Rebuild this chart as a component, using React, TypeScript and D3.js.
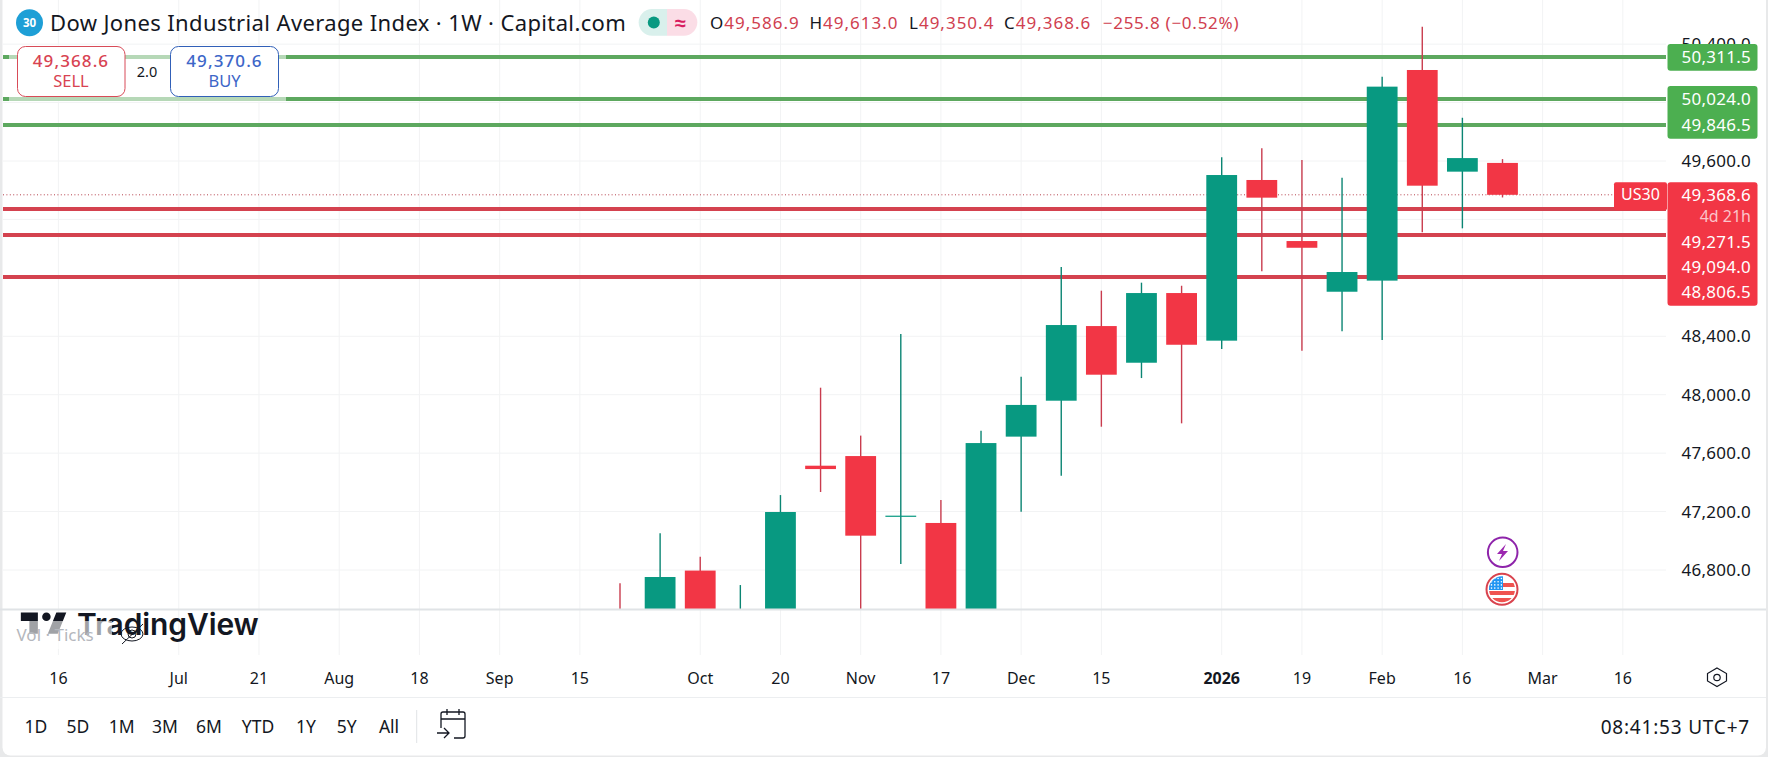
import React from 'react';
import * as d3 from 'd3';

const weeks = [
  '2025-09-22', '2025-09-29', '2025-10-06', '2025-10-13', '2025-10-20', '2025-10-27',
  '2025-11-03', '2025-11-10', '2025-11-17', '2025-11-24', '2025-12-01', '2025-12-08',
  '2025-12-15', '2025-12-22', '2025-12-29', '2026-01-05', '2026-01-12', '2026-01-19',
  '2026-01-26', '2026-02-02', '2026-02-09', '2026-02-16', '2026-02-23',
];
// the first candles run below the pane, their lower values are guesses
const opens = [46500, 46400, 46796, 46300, 46400, 47514, 47580, 47168, 47122, 46350, 47713, 47959, 48470, 48219, 48696, 48370, 49470, 49052, 48705, 48781, 50223, 49527, 49586.9];
const highs = [46709, 47051, 46891, 46697, 47313, 48048, 47720, 48416, 47279, 47754, 48123, 48874, 48712, 48767, 48746, 49625, 49687, 49607, 49486, 50177, 50519, 49896, 49613];
const lows = [46300, 46300, 46300, 46200, 46300, 47334, 46450, 46841, 46300, 46300, 47199, 47446, 47781, 48114, 47804, 48313, 48845, 48301, 48434, 48375, 49112, 49139, 49350.4];
const closes = [46420, 46752, 46450, 46450, 47197, 47491, 47035, 47172, 46400, 47669, 47930, 48477, 48137, 48696, 48342, 49504, 49349, 49006, 48840, 50109, 49431, 49620, 49368.6];

const priceTicks = [50400, 50000, 49600, 49200, 48800, 48400, 48000, 47600, 47200, 46800];
// these three tick labels sit behind the price tags in the reference
const coveredTicks = [50000, 49200, 48800];
const greenLevels = [50311.5, 50024, 49846.5];
const redLevels = [49271.5, 49094, 48806.5];
const lastPrice = 49368.6;

const timeTicks = [
  '2025-06-16', '2025-07-07', '2025-07-21', '2025-08-04', '2025-08-18', '2025-09-01', '2025-09-15',
  '2025-10-06', '2025-10-20', '2025-11-03', '2025-11-17', '2025-12-01', '2025-12-15', '2026-01-05',
  '2026-01-19', '2026-02-02', '2026-02-16', '2026-03-02', '2026-03-16',
];
const timeLabels = ['16', 'Jul', '21', 'Aug', '18', 'Sep', '15', 'Oct', '20', 'Nov', '17', 'Dec', '15', '2026', '19', 'Feb', '16', 'Mar', '16'];

const ranges = ['1D', '5D', '1M', '3M', '6M', 'YTD', '1Y', '5Y', 'All'];
const rangeX = [36, 78, 121.7, 165, 209, 258, 306, 346.7, 389];

const legendItems = [
  { k: 'O', v: '49,586.9', x: 710 },
  { k: 'H', v: '49,613.0', x: 809.5 },
  { k: 'L', v: '49,350.4', x: 909 },
  { k: 'C', v: '49,368.6', x: 1004 },
];

const GREEN = '#089981';
const RED = '#F23645';
const INK = '#131722';
const FONT = '"Noto Sans", sans-serif';

const day = (s: string) => new Date(s + 'T00:00:00Z');

const x = d3.scaleUtc().domain([day(weeks[0]), day(weeks[weeks.length - 1])]).range([620, 1502.5]);
const y = d3.scaleLinear().domain([46800, 49600]).range([570, 161]);
const fmt = d3.format(',.1f');

const paneLeft = 3;
const paneRight = 1666;
const paneBottom = 609;
const bodyW = 30.8;

function Candles() {
  return (
    <g clipPath="url(#pane)">
      {weeks.map((w, i) => {
        const up = closes[i] >= opens[i];
        const c = up ? GREEN : RED;
        const cx = x(day(w));
        const top = y(Math.max(opens[i], closes[i]));
        const bottom = y(Math.min(opens[i], closes[i]));
        return (
          <g key={w}>
            <line x1={cx} x2={cx} y1={y(highs[i])} y2={y(lows[i])} stroke={up ? '#0b8573' : '#c93c4e'} strokeWidth={1.4} />
            <rect x={cx - bodyW / 2} y={top} width={bodyW} height={Math.max(bottom - top, 1.2)} fill={c} />
          </g>
        );
      })}
    </g>
  );
}

export default function App() {
  const lastY = y(lastPrice);
  return (
    <svg width={1768} height={757} style={{ position: 'absolute', left: 0, top: 0, display: 'block', fontFamily: FONT }}>
      <defs>
        <clipPath id="pane">
          <rect x={paneLeft} y={0} width={paneRight - paneLeft} height={paneBottom} />
        </clipPath>
        <clipPath id="flag">
          <circle cx={1502} cy={589.3} r={13} />
        </clipPath>
      </defs>
      <rect width={1768} height={757} fill="#e8e9ea" />
      <rect x={2.5} y={-10} width={1763.5} height={765.5} rx={8} fill="#fff" />

      {/* grid */}
      {priceTicks.map(t => (
        <line key={t} x1={paneLeft} x2={paneRight} y1={y(t)} y2={y(t)} stroke="#f2f3f4" />
      ))}
      {timeTicks.map(t => (
        <line key={t} x1={x(day(t))} x2={x(day(t))} y1={0} y2={655} stroke="#f2f3f4" />
      ))}

      {/* levels */}
      {greenLevels.map(v => (
        <line key={v} x1={paneLeft} x2={paneRight} y1={y(v)} y2={y(v)} stroke="#5da85f" strokeWidth={4} />
      ))}
      {redLevels.map(v => (
        <line key={v} x1={paneLeft} x2={paneRight} y1={y(v)} y2={y(v)} stroke="#d4424f" strokeWidth={4} />
      ))}
      <line x1={paneLeft} x2={1614} y1={lastY} y2={lastY} stroke="#b5404c" strokeWidth={1} strokeDasharray="1 2.4" />

      <Candles />

      <line x1={0} x2={1766} y1={paneBottom + 0.5} y2={paneBottom + 0.5} stroke="#e0e3e6" strokeWidth={2} />
      <line x1={0} x2={1766} y1={697.5} y2={697.5} stroke="#eceef0" />

      {/* price scale */}
      {priceTicks.filter(t => !coveredTicks.includes(t)).map(t => (
        <text key={t} x={1751} y={y(t)} dy="0.35em" textAnchor="end" fontSize={17} letterSpacing={0.25} fill={INK}>{fmt(t)}</text>
      ))}
      <rect x={1667.5} y={44} width={90} height={26.7} rx={3} fill="#4caf50" />
      <rect x={1667.5} y={86} width={90} height={52.7} rx={3} fill="#4caf50" />
      {greenLevels.map(v => (
        <text key={v} x={1751} y={y(v)} dy="0.35em" textAnchor="end" fontSize={17} letterSpacing={0.25} fill="#fff">{fmt(v)}</text>
      ))}
      <rect x={1614} y={182.3} width={53} height={28} rx={2} fill={RED} />
      <text x={1640.5} y={lastY} dy="0.35em" textAnchor="middle" fontSize={16} fill="#fff">US30</text>
      <rect x={1667.5} y={182.3} width={90} height={123.5} rx={3} fill={RED} />
      <text x={1751} y={lastY} dy="0.35em" textAnchor="end" fontSize={17} letterSpacing={0.25} fill="#fff">{fmt(lastPrice)}</text>
      <text x={1751} y={216} dy="0.35em" textAnchor="end" fontSize={16} fill="#fbc4ca">4d 21h</text>
      {redLevels.map((v, i) => (
        <text key={v} x={1751} y={241.7 + i * 25.2} dy="0.35em" textAnchor="end" fontSize={17} letterSpacing={0.25} fill="#fff">{fmt(v)}</text>
      ))}

      {/* events */}
      <circle cx={1502.7} cy={552.3} r={14.8} fill="#fff" stroke="#8e24aa" strokeWidth={2} />
      <path d="M1506 544l-9 10h5l-3 7 9-10h-5z" fill="#9c27b0" />
      <circle cx={1502} cy={589.3} r={15.5} fill="#fff" stroke="#d9434e" strokeWidth={2} />
      <g clipPath="url(#flag)">
        <rect x={1489} y={576} width={26} height={26} fill="#fff" />
        <rect x={1489} y={583} width={26} height={4} fill="#ef5350" />
        <rect x={1489} y={591} width={26} height={4} fill="#ef5350" />
        <rect x={1489} y={598} width={26} height={5} fill="#ef5350" />
        <rect x={1489} y={576} width={14} height={14} fill="#2196f3" />
        {d3.range(4).flatMap(r => d3.range(4).map(c => (
          <circle key={`${r}-${c}`} cx={1491.5 + c * 3.3} cy={578.5 + r * 3.2} r={0.8} fill="#fff" />
        )))}
      </g>

      {/* legend */}
      <circle cx={29.5} cy={22.7} r={13.5} fill="#1e9fd6" />
      <text x={29.5} y={22.7} dy="0.35em" textAnchor="middle" fontSize={11.5} fontWeight={700} fill="#fff">30</text>
      <text x={50} y={23} dy="0.35em" fontSize={22} letterSpacing={0.37} fill={INK}>Dow Jones Industrial Average Index · 1W · Capital.com</text>
      <path d="M652 9h15v26.7h-15a13.35 13.35 0 0 1 0-26.7z" fill="#d9f0ec" />
      <path d="M667 9h17a13.35 13.35 0 0 1 0 26.7h-17z" fill="#fbdde6" />
      <circle cx={653.8} cy={22.5} r={6} fill={GREEN} />
      <text x={680.5} y={22.5} dy="0.35em" textAnchor="middle" fontSize={20} fontWeight={700} fill="#d81b60">≈</text>
      {legendItems.map(d => (
        <text key={d.k} x={d.x} y={23} dy="0.35em" fontSize={17} letterSpacing={1} fill={INK}>
          {d.k}<tspan fill="#d0404f">{d.v}</tspan>
        </text>
      ))}
      <text x={1102.7} y={23} dy="0.35em" fontSize={17} letterSpacing={0.75} fill="#d0404f">−255.8 (−0.52%)</text>

      {/* buy / sell */}
      <rect x={9} y={45} width={277} height={57} fill="#fff" opacity={0.55} />
      <rect x={17.5} y={46.5} width={107.5} height={50} rx={8} fill="#fff" stroke="#d84b58" />
      <text x={71} y={61} dy="0.35em" textAnchor="middle" fontSize={17} fontWeight={500} letterSpacing={1.1} fill="#d84352">49,368.6</text>
      <text x={71} y={81} dy="0.35em" textAnchor="middle" fontSize={16.5} fill="#d84352">SELL</text>
      <text x={147} y={72} dy="0.35em" textAnchor="middle" fontSize={14.5} fill={INK}>2.0</text>
      <rect x={170.5} y={46.5} width={108} height={50} rx={8} fill="#fff" stroke="#3160b8" />
      <text x={224.5} y={61} dy="0.35em" textAnchor="middle" fontSize={17} fontWeight={500} letterSpacing={1.1} fill="#3d66c8">49,370.6</text>
      <text x={224.5} y={81} dy="0.35em" textAnchor="middle" fontSize={16.5} fill="#3d66c8">BUY</text>

      {/* watermark */}
      <path transform="translate(18,604) scale(1.42)" d="M14 6H2v6h6v9h6V6Zm14 15h-7l6-15h7l-6 15Zm-8-9a3 3 0 1 0 0-6 3 3 0 0 0 0 6Z" fill={INK} />
      <text x={77} y={635} fontSize={30} fontWeight={600} fontFamily="Inter, sans-serif" fill={INK} letterSpacing={-0.1}>TradingView</text>
      <rect x={14} y={621} width={98} height={28} fill="#fff" opacity={0.6} />
      <text x={16.5} y={635} dy="0.35em" fontSize={17} fill="#b4b7bd">Vol · Ticks</text>
      <g fill="none" stroke={INK} strokeWidth={1}>
        <ellipse cx={132} cy={634} rx={11} ry={7} />
        <circle cx={132} cy={634} r={4} />
        <line x1={122} x2={143} y1={644} y2={624} />
      </g>

      {/* time scale */}
      {timeTicks.map((t, i) => (
        <text key={t} x={x(day(t))} y={678} dy="0.35em" textAnchor="middle" fontSize={16}
          fontWeight={timeLabels[i] === '2026' ? 700 : 400} fill={INK}>{timeLabels[i]}</text>
      ))}
      <path d="M1717 668.5l9.5 5.5v7.5l-9.5 5.5-9.5-5.5V674z" transform="translate(0,-0.5)" fill="none" stroke={INK} strokeWidth={1.2} />
      <circle cx={1717} cy={677.5} r={3.2} fill="none" stroke={INK} strokeWidth={1.2} />

      {/* toolbar */}
      {ranges.map((r, i) => (
        <text key={r} x={rangeX[i]} y={727} dy="0.35em" textAnchor="middle" fontSize={17.5} fill={INK}>{r}</text>
      ))}
      <line x1={416.7} x2={416.7} y1={710} y2={743} stroke="#e0e3e6" />
      <g fill="none" stroke={INK} strokeWidth={1.3}>
        <path d="M441 728v-14a2 2 0 0 1 2-2h20a2 2 0 0 1 2 2v22a2 2 0 0 1-2 2h-9" />
        <path d="M441 719h24M447 709v6M459 709v6" />
        <path d="M437 733h12M444 728l5 5-5 5" />
      </g>
      <text x={1750} y={727} dy="0.35em" textAnchor="end" fontSize={19} letterSpacing={0.8} fill={INK}>08:41:53 UTC+7</text>
    </svg>
  );
}
